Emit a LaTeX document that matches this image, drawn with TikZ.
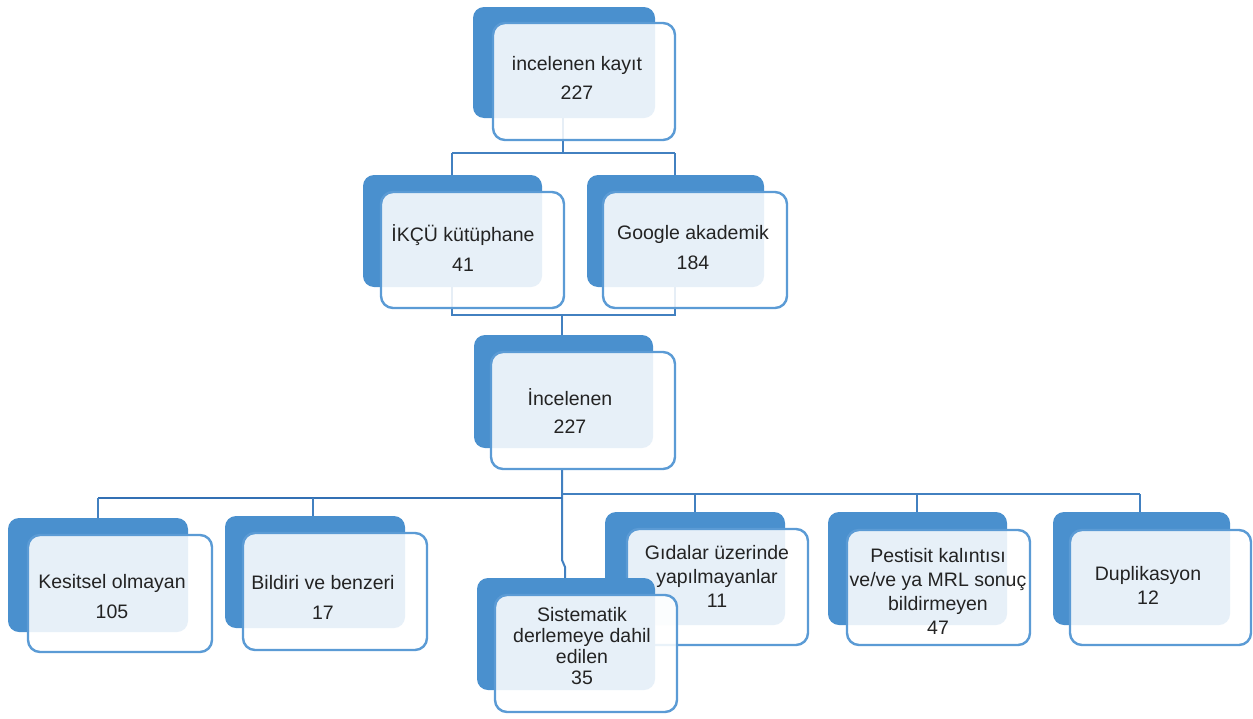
\documentclass[tikz,border=0pt]{standalone}
\usepackage{fontspec}
\setmainfont{Liberation Sans}
\usetikzlibrary{backgrounds}
\definecolor{backblue}{RGB}{74,144,206}
\definecolor{frontline}{RGB}{91,155,213}
\definecolor{conncol}{RGB}{66,128,192}
\definecolor{connthk}{RGB}{50,112,180}
\definecolor{txt}{RGB}{35,35,35}
\tikzset{
 backbox/.style={draw=none, fill=backblue, rounded corners=11pt, anchor=north west, inner sep=0pt, outer sep=0pt},
 frontbox/.style={draw=frontline, line width=2.4pt, fill=white, fill opacity=0.87, draw opacity=1, rounded corners=12pt, anchor=north west, inner sep=0pt, outer sep=0pt},
 lbl/.style={text=txt, align=center, inner sep=0pt, font=\fontsize{19.5}{#1}\selectfont},
 conn/.style={draw=conncol, line width=2pt},
 connthick/.style={draw=connthk, line width=2.8pt},
}
\newcommand\smbox[9]{%
 \node[backbox, minimum width={#4pt-#2pt}, minimum height={#5pt-#3pt}] (#1b) at (#2,#3) {};
 \node[frontbox, minimum width={#8pt-#6pt}, minimum height={#9pt-#7pt}] (#1) at (#6,#7) {};
}
\begin{document}
\begin{tikzpicture}[x=1pt,y=-1pt]
\useasboundingbox (0,0) rectangle (1253,718);
% boxes
\smbox{top}{473}{7}{655}{118}{493}{23}{675}{140}
\smbox{ikcu}{363}{175}{542}{287}{381}{192}{564}{308}
\smbox{goog}{587}{175}{764}{287}{603}{192}{787}{308}
\smbox{incel}{474}{335}{653}{448}{491}{352}{675}{469}
\smbox{kes}{8}{518}{188}{632}{28}{535}{212}{652}
\smbox{bild}{225}{516}{405}{628}{243}{533}{427}{650}
\smbox{gida}{605}{512}{785}{625}{627}{529}{808}{645}
\smbox{pest}{828}{512}{1007}{625}{847}{530}{1030}{645}
\smbox{dup}{1053}{512}{1230}{625}{1070}{530}{1251}{645}
\smbox{sist}{477}{578}{655}{690}{495}{595}{677}{712}
% labels
\node[lbl=29] (topt) at (577,77.5) {incelenen kayıt\\227};
\node[lbl=30] (ikcut) at (463,248) {İKÇÜ kütüphane\\41};
\node[lbl=30] (googt) at (693,248) {Google akademik\\184};
\node[lbl=28] (incelt) at (570,411) {İncelenen\\227};
\node[lbl=30] (kest) at (112,597) {Kesitsel olmayan\\105};
\node[lbl=30] (bildt) at (323,597) {Bildiri ve benzeri\\17};
\node[lbl=24] (gidat) at (717,576) {Gıdalar üzerinde\\yapılmayanlar\\11};
\node[lbl=24] (pestt) at (938,591) {Pestisit kalıntısı\\ve/ve ya MRL sonuç\\bildirmeyen\\47};
\node[lbl=24] (dupt) at (1148,585) {Duplikasyon\\12};
\node[lbl=21] (sistt) at (582,646.5) {Sistematik\\derlemeye dahil\\edilen\\35};
% connectors
\coordinate (j1) at (563,153);
\coordinate (j1L) at (452,153);
\coordinate (j1R) at (675,153);
\coordinate (j2) at (562,315);
\coordinate (j2L) at (452,315);
\coordinate (j2R) at (675,315);
\coordinate (j3) at (562,496);
\coordinate (j3L) at (98,498);
\coordinate (j3B) at (313,498);
\coordinate (j3C) at (562,498);
\coordinate (j3R) at (562,494);
\coordinate (j3G) at (695,494);
\coordinate (j3P) at (917,494);
\coordinate (j3D) at (1140,494);
\coordinate (k1) at (562,560);
\coordinate (k2) at (565,567);
\begin{pgfonlayer}{background}
\draw[conn] (topb.south -| j1) -- (j1);
\draw[conn] (j1L) -- (j1R);
\draw[conn] (j1L) -- (j1L |- ikcub.north);
\draw[conn] (j1R) -- (j1R |- googb.north);
\draw[conn] (j2L |- ikcub.south) -- (j2L) -- (j2R) -- (j2R |- googb.south);
\draw[conn] (j2) -- (j2 |- incelb.north);
\draw[conn] (incel.south -| j3) -- (k1) -- (k2) -- (k2 |- sistb.north);
\draw[connthick] (j3C) -- (j3L);
\draw[conn] (j3L) -- (j3L |- kesb.north);
\draw[conn] (j3B) -- (j3B |- bildb.north);
\draw[conn] (j3R) -- (j3D);
\draw[conn] (j3G) -- (j3G |- gidab.north);
\draw[conn] (j3P) -- (j3P |- pestb.north);
\draw[conn] (j3D) -- (j3D |- dupb.north);
\end{pgfonlayer}
\end{tikzpicture}
\end{document}
